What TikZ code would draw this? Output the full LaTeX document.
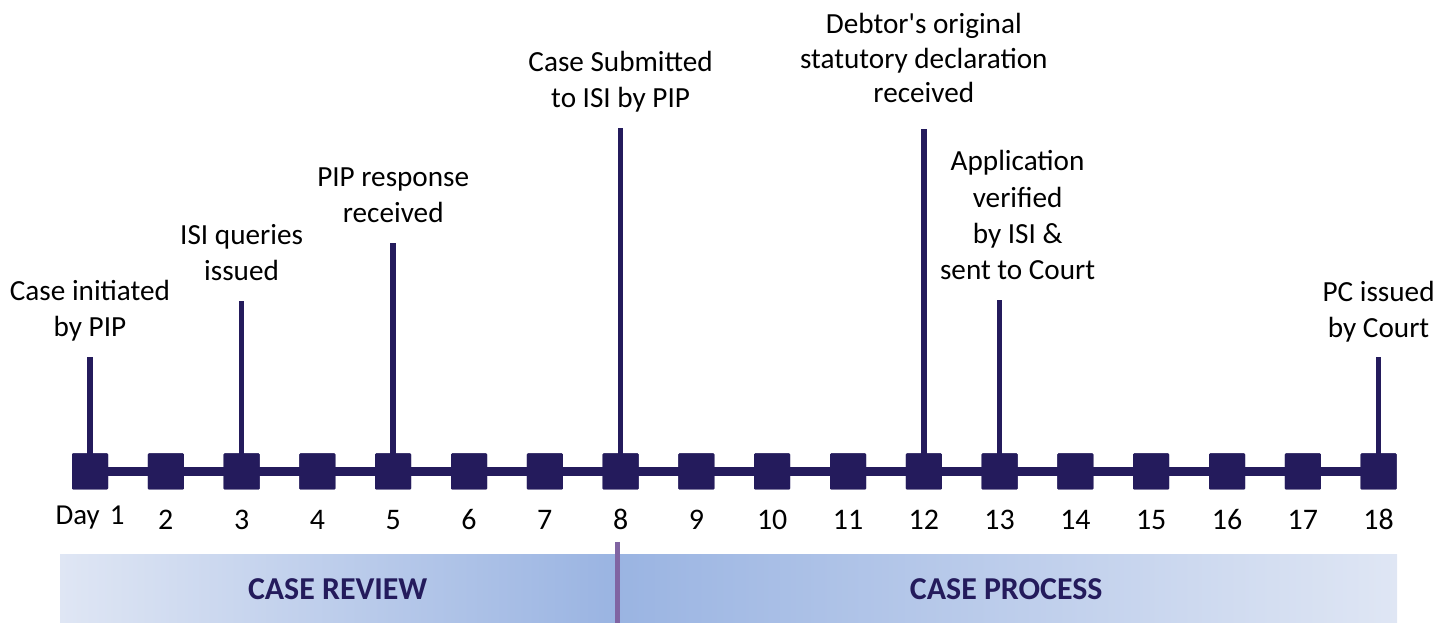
\documentclass[tikz,border=0pt]{standalone}
\usepackage{fontspec}
\setmainfont{Carlito}[Ligatures=TeXOff]
\usetikzlibrary{positioning}
\definecolor{DayNavy}{RGB}{36,27,92}
\definecolor{BarLight}{RGB}{223,230,244}
\definecolor{BarDark}{RGB}{154,180,226}
\definecolor{SplitPurple}{RGB}{128,100,162}
\tikzset{
  daybox/.style={fill=DayNavy,minimum size=36bp,inner sep=0pt,rounded corners=1bp},
  track/.style={DayNavy,line width=9bp},
  stem/.style={DayNavy,line width=5.5bp},
  evlabel/.style={font=\fontsize{29.3}{36.5}\selectfont,align=center,inner sep=0pt},
  daynum/.style={font=\fontsize{30}{34}\selectfont,inner sep=0pt},
  phasebar/.style={minimum height=68bp,inner sep=0pt,anchor=south west,
    font=\bfseries\fontsize{32}{36}\selectfont,text=DayNavy},
}
% stem from a day box up to its label
\newcommand{\markday}[5][]{%
  \coordinate (t#2) at (d#2 |- 0,#3);
  \draw[stem] (d#2.center) -- (t#2);
  \node[evlabel,above=#4bp of t#2,anchor=base,#1] (e#2) {#5};}

\begin{document}
\begin{tikzpicture}[x=1bp,y=1bp]
  \useasboundingbox (0,0) rectangle (1453,623);
  % day boxes
  \foreach \i in {1,...,18}
    \node[daybox] (d\i) at ({90+(\i-1)*75.8},151.5) {};
  \draw[track] (d1.center) -- (d18.center);
  \foreach \i in {1,...,18}
    \node[daybox] at (d\i) {};
  \node[daynum,font=\fontsize{29}{34}\selectfont,below=35bp of d1,anchor=base] (n1) {Day\hspace{0.35em}1};
  \foreach \i in {2,...,18}
    \node[daynum,below=39.5bp of d\i,anchor=base] (n\i) {\i};
  % events
  \markday{1}{266}{20}{Case initiated\\by PIP}
  \markday{3}{322}{20}{ISI queries\\issued}
  \markday{5}{380}{20}{PIP response\\received}
  \markday{8}{495}{20}{Case Submitted\\to ISI by PIP}
  \markday[font=\fontsize{29.3}{35}\selectfont]{12}{494}{26}{Debtor's original\\statutory declaration\\received}
  \markday[xshift=18bp]{13}{323}{20}{Application\\verified\\by ISI \&\\sent to Court}
  \markday{18}{266}{19}{PC issued\\by Court}
  % phases
  \node[phasebar,minimum width=555bp,left color=BarLight,right color=BarDark] (review) at (60,0) {CASE REVIEW};
  \node[phasebar,minimum width=782bp,left color=BarDark,right color=BarLight] (process) at (615,0) {CASE PROCESS};
  \coordinate (splittop) at (617,81);
  \draw[SplitPurple,line width=5bp] (splittop) -- (splittop |- review.south);
\end{tikzpicture}
\end{document}
